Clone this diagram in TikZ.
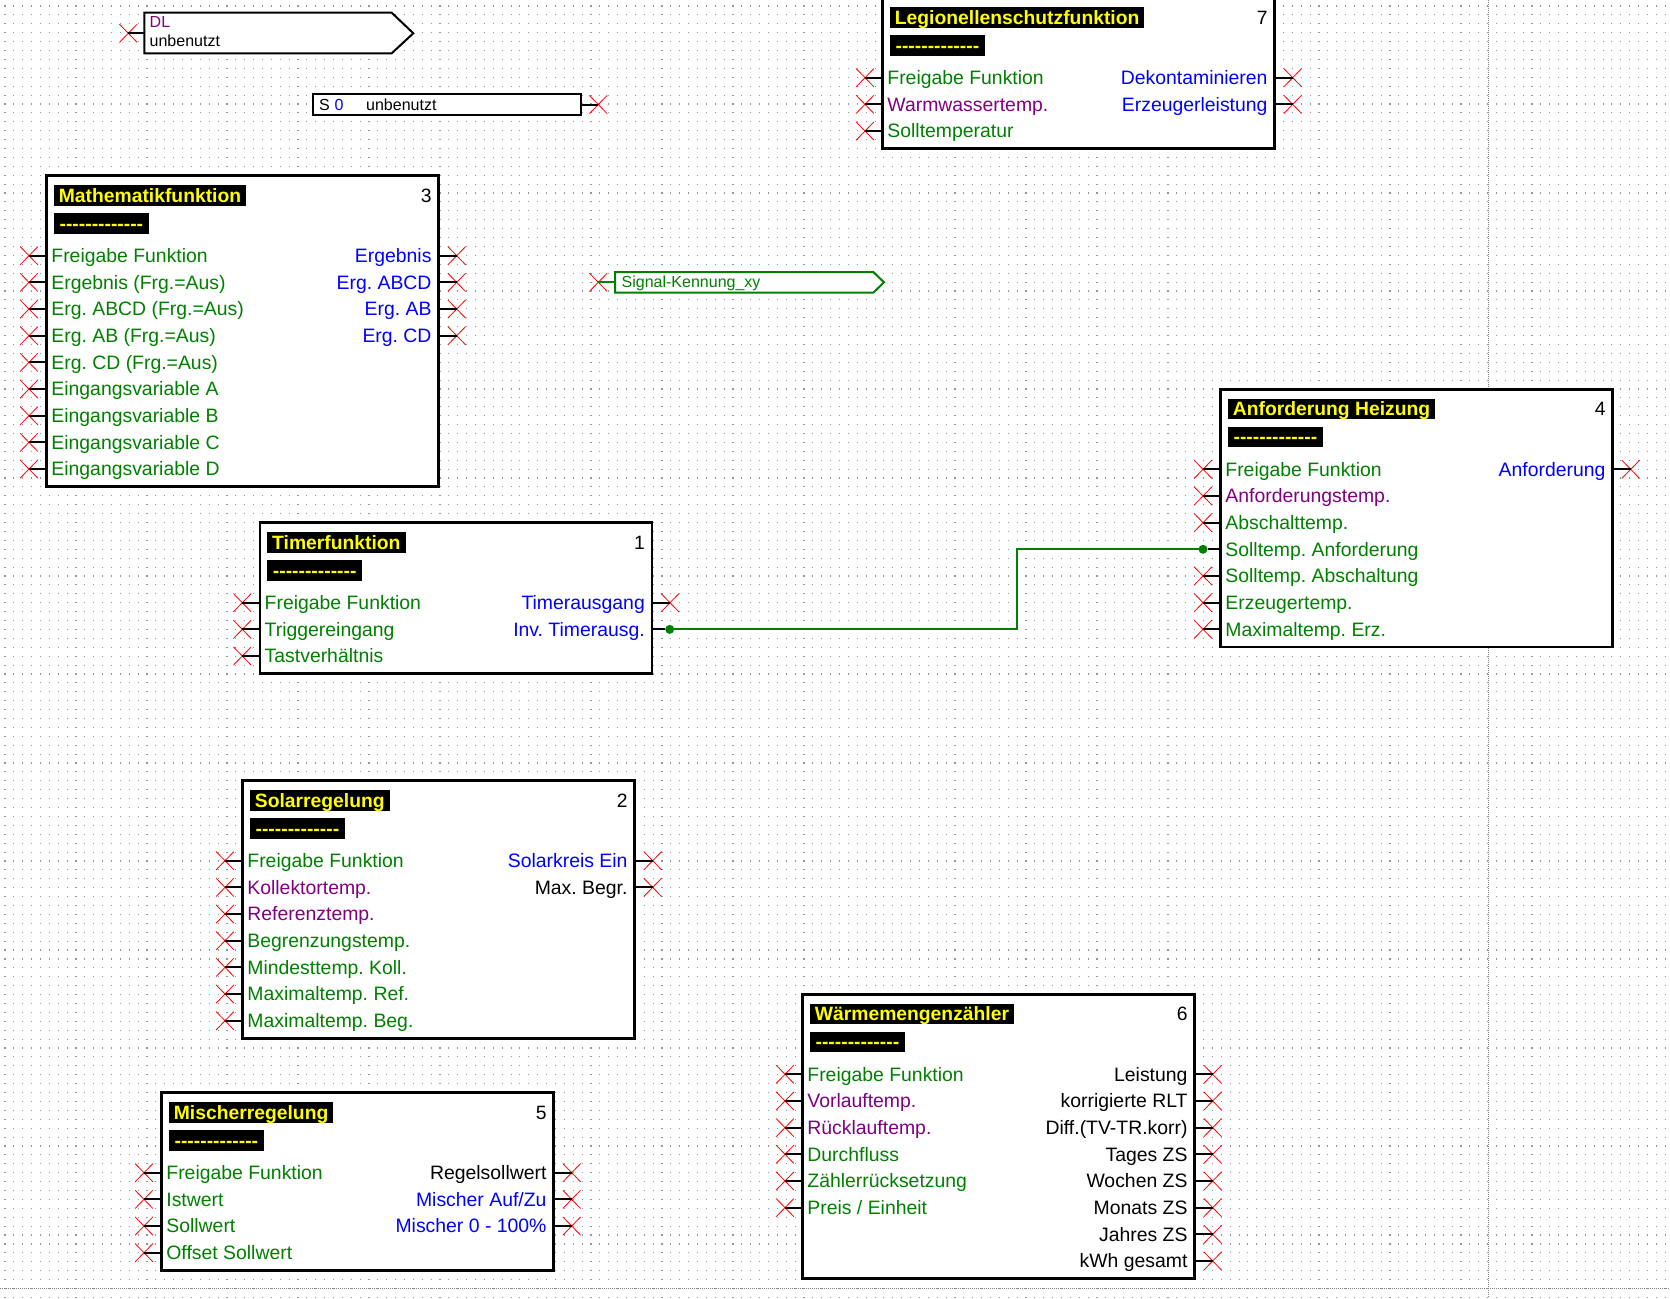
\documentclass[tikz,border=0pt]{standalone}
\usepackage{fontspec}
\setmainfont{Liberation Sans}
\usetikzlibrary{shapes.misc}
\definecolor{sgreen}{RGB}{0,128,0}
\definecolor{spurple}{RGB}{128,0,128}
\definecolor{sblue}{RGB}{0,0,255}
\definecolor{syellow}{RGB}{255,255,0}
\definecolor{griddot}{RGB}{150,150,150}
\newcommand{\dashrow}{-\kern0pt-\kern0pt-\kern0pt-\kern0pt-\kern0pt-\kern0pt-\kern0pt-\kern0pt-\kern0pt-\kern0pt-\kern0pt-\kern0pt-}
\frenchspacing

\begin{document}
\begin{tikzpicture}[
    x=1pt, y=-1pt,
    fblock/.style={rectangle, draw, line width=2.5pt, fill=white, anchor=north west, inner sep=0pt, outer sep=0pt, minimum width=392pt},
    ftitle/.style={fill=black, text=syellow, font=\fontsize{19.3}{22}\selectfont\bfseries, anchor=west, inner xsep=5pt, inner ysep=0pt, minimum height=20.7pt, text height=13.6pt, text depth=0pt},
    fdash/.style={ftitle, minimum width=95pt},
    fnum/.style={font=\fontsize{19.3}{22}\selectfont, anchor=base east, inner sep=0pt, yshift=-6.9pt},
    inlabel/.style={font=\fontsize{19.4}{22}\selectfont, anchor=base west, inner sep=0pt, yshift=-6.9pt},
    outlabel/.style={inlabel, anchor=base east},
    small/.style={font=\fontsize{16}{19}\selectfont, anchor=base west, inner sep=0pt},
    xmark/.style={cross out, draw=red, line width=0.8pt, minimum width=17pt, minimum height=17.5pt, inner sep=0pt},
    pindot/.style={circle, fill=sgreen, minimum size=9pt, inner sep=0pt},
    stub/.style={line width=2pt},
    link/.style={draw=sgreen, line width=2pt},
    pageline/.style={draw=gray, line width=1pt, dash pattern=on 1pt off 1pt}
]
\useasboundingbox (0,0) rectangle (1670,1298);
\fill[white] (0,0) rectangle (1670,1298);

% Grid
\foreach \r in {0,...,145}
    \draw[griddot, line width=1.1pt, dash pattern=on 1.1pt off 7.778pt] (4.45,6+8.906*\r) -- (1670,6+8.906*\r);
\draw[pageline] (1488.3,0) -- (1488.3,1298);
\draw[pageline] (0,1288.3) -- (1670,1288.3);

% DL input
\draw[line width=2pt, fill=white] (144.3,12.7) -- (391.7,12.7) -- (413.3,33.3) -- (391.7,53.3) -- (144.3,53.3) -- cycle;
\coordinate (dl-in) at (144.3,33.3);
\node[xmark] (dl-x) at (128.3,33.3) {};
\draw[stub] (dl-x.center) -- (dl-in);
\node[small, text=spurple] (dl-name) at (149.5,27.3) {DL};
\node[small] (dl-val) at (149.5,46.9) {unbenutzt};

% S 0
\node[rectangle, draw, fill=white, line width=2pt, anchor=north west, minimum width=267.7pt, minimum height=21pt, inner sep=0pt, outer sep=0pt] (s0) at (313.3,94) {};
\node[small] (s0-s) at (319,110) {S};
\node[small, text=sblue] (s0-n) at (334.5,110) {0};
\node[small] (s0-val) at (366,110) {unbenutzt};
\node[xmark] (s0-x) at (598.3,104.5) {};
\draw[stub] (s0-x.center) -- (s0-x -| s0.east);

% Signal
\draw[draw=sgreen, line width=2pt, fill=white] (615,272) -- (873.3,272) -- (884,282.3) -- (873.3,292.7) -- (615,292.7) -- cycle;
\coordinate (sig-in) at (615,282.3);
\node[xmark] (sig-x) at (598.3,282.3) {};
\draw[stub, sgreen] (sig-x.center) -- (sig-in);
\node[small, text=sgreen] (sig-name) at (621.5,287.3) {Signal-Kennung\_xy};

% Legionellenschutzfunktion
\node[fblock, minimum height=151pt] (legio) at (882.7,-2.3) {};
\node[ftitle] (legio-t) at ([shift={(7,19.7)}]legio.north west) {Legionellenschutzfunktion};
\node[fdash] (legio-d) at ([shift={(7,47.7)}]legio.north west) {\dashrow};
\node[fnum] (legio-n) at ([shift={(-7,19.7)}]legio.north east) {7};
\foreach \txt/\col [count=\i] in {Freigabe Funktion/sgreen, Warmwassertemp./spurple, Solltemperatur/sgreen} {
    \node[inlabel, text=\col] (legio-l\i) at ([shift={(4.5,53.33+26.667*\i)}]legio.north west) {\txt};
    \node[xmark] (legio-i\i) at ([shift={(-17.7,53.33+26.667*\i)}]legio.north west) {};
    \draw[stub] (legio-i\i.center) -- (legio-i\i -| legio.west);
}
\foreach \txt/\col [count=\i] in {Dekontaminieren/sblue, Erzeugerleistung/sblue} {
    \node[outlabel, text=\col] (legio-r\i) at ([shift={(-7,53.33+26.667*\i)}]legio.north east) {\txt};
    \node[xmark] (legio-o\i) at ([shift={(18,53.33+26.667*\i)}]legio.north east) {};
    \draw[stub] (legio-o\i.center) -- (legio-o\i -| legio.east);
}

% Mathematikfunktion
\node[fblock, minimum height=311pt] (math) at (46.7,175.7) {};
\node[ftitle] (math-t) at ([shift={(7,19.7)}]math.north west) {Mathematikfunktion};
\node[fdash] (math-d) at ([shift={(7,47.7)}]math.north west) {\dashrow};
\node[fnum] (math-n) at ([shift={(-7,19.7)}]math.north east) {3};
\foreach \txt/\col [count=\i] in {Freigabe Funktion/sgreen, Ergebnis (Frg.=Aus)/sgreen, Erg. ABCD (Frg.=Aus)/sgreen,
    Erg. AB (Frg.=Aus)/sgreen, Erg. CD (Frg.=Aus)/sgreen, Eingangsvariable A/sgreen,
    Eingangsvariable B/sgreen, Eingangsvariable C/sgreen, Eingangsvariable D/sgreen} {
    \node[inlabel, text=\col] (math-l\i) at ([shift={(4.5,53.33+26.667*\i)}]math.north west) {\txt};
    \node[xmark] (math-i\i) at ([shift={(-17.7,53.33+26.667*\i)}]math.north west) {};
    \draw[stub] (math-i\i.center) -- (math-i\i -| math.west);
}
\foreach \txt/\col [count=\i] in {Ergebnis/sblue, Erg. ABCD/sblue, Erg. AB/sblue, Erg. CD/sblue} {
    \node[outlabel, text=\col] (math-r\i) at ([shift={(-7,53.33+26.667*\i)}]math.north east) {\txt};
    \node[xmark] (math-o\i) at ([shift={(18,53.33+26.667*\i)}]math.north east) {};
    \draw[stub] (math-o\i.center) -- (math-o\i -| math.east);
}

% Anforderung Heizung
\node[fblock, minimum height=257.7pt] (anf) at (1220.7,389.3) {};
\node[ftitle] (anf-t) at ([shift={(7,19.7)}]anf.north west) {Anforderung Heizung};
\node[fdash] (anf-d) at ([shift={(7,47.7)}]anf.north west) {\dashrow};
\node[fnum] (anf-n) at ([shift={(-7,19.7)}]anf.north east) {4};
\foreach \txt/\col [count=\i] in {Freigabe Funktion/sgreen, Anforderungstemp./spurple, Abschalttemp./sgreen,
    Solltemp. Anforderung/sgreen, Solltemp. Abschaltung/sgreen, Erzeugertemp./sgreen, Maximaltemp. Erz./sgreen} {
    \node[inlabel, text=\col] (anf-l\i) at ([shift={(4.5,53.33+26.667*\i)}]anf.north west) {\txt};
}
\foreach \i in {1,2,3,5,6,7} {
    \node[xmark] (anf-i\i) at ([shift={(-17.7,53.33+26.667*\i)}]anf.north west) {};
    \draw[stub] (anf-i\i.center) -- (anf-i\i -| anf.west);
}
\node[pindot] (anf-i4) at ([shift={(-17.7,160)}]anf.north west) {};
\draw[stub] (anf-i4) -- (anf-i4 -| anf.west);
\node[outlabel, text=sblue] (anf-r1) at ([shift={(-7,80)}]anf.north east) {Anforderung};
\node[xmark] (anf-o1) at ([shift={(18,80)}]anf.north east) {};
\draw[stub] (anf-o1.center) -- (anf-o1 -| anf.east);

% Timerfunktion
\node[fblock, minimum height=151pt] (timer) at (260,522.7) {};
\node[ftitle] (timer-t) at ([shift={(7,19.7)}]timer.north west) {Timerfunktion};
\node[fdash] (timer-d) at ([shift={(7,47.7)}]timer.north west) {\dashrow};
\node[fnum] (timer-n) at ([shift={(-7,19.7)}]timer.north east) {1};
\foreach \txt/\col [count=\i] in {Freigabe Funktion/sgreen, Triggereingang/sgreen, Tastverhältnis/sgreen} {
    \node[inlabel, text=\col] (timer-l\i) at ([shift={(4.5,53.33+26.667*\i)}]timer.north west) {\txt};
    \node[xmark] (timer-i\i) at ([shift={(-17.7,53.33+26.667*\i)}]timer.north west) {};
    \draw[stub] (timer-i\i.center) -- (timer-i\i -| timer.west);
}
\node[outlabel, text=sblue] (timer-r1) at ([shift={(-7,80)}]timer.north east) {Timerausgang};
\node[outlabel, text=sblue] (timer-r2) at ([shift={(-7,106.67)}]timer.north east) {Inv. Timerausg.};
\node[xmark] (timer-o1) at ([shift={(18,80)}]timer.north east) {};
\draw[stub] (timer-o1.center) -- (timer-o1 -| timer.east);
\node[pindot] (timer-o2) at ([shift={(17.7,106.67)}]timer.north east) {};
\draw[stub] (timer-o2) -- (timer-o2 -| timer.east);

% Solarregelung
\node[fblock, minimum height=257.7pt] (solar) at (242.7,780.7) {};
\node[ftitle] (solar-t) at ([shift={(7,19.7)}]solar.north west) {Solarregelung};
\node[fdash] (solar-d) at ([shift={(7,47.7)}]solar.north west) {\dashrow};
\node[fnum] (solar-n) at ([shift={(-7,19.7)}]solar.north east) {2};
\foreach \txt/\col [count=\i] in {Freigabe Funktion/sgreen, Kollektortemp./spurple, Referenztemp./spurple,
    Begrenzungstemp./sgreen, Mindesttemp. Koll./sgreen, Maximaltemp. Ref./sgreen, Maximaltemp. Beg./sgreen} {
    \node[inlabel, text=\col] (solar-l\i) at ([shift={(4.5,53.33+26.667*\i)}]solar.north west) {\txt};
    \node[xmark] (solar-i\i) at ([shift={(-17.7,53.33+26.667*\i)}]solar.north west) {};
    \draw[stub] (solar-i\i.center) -- (solar-i\i -| solar.west);
}
\foreach \txt/\col [count=\i] in {Solarkreis Ein/sblue, Max. Begr./black} {
    \node[outlabel, text=\col] (solar-r\i) at ([shift={(-7,53.33+26.667*\i)}]solar.north east) {\txt};
    \node[xmark] (solar-o\i) at ([shift={(18,53.33+26.667*\i)}]solar.north east) {};
    \draw[stub] (solar-o\i.center) -- (solar-o\i -| solar.east);
}

% Waermemengenzaehler
\node[fblock, minimum height=284.4pt] (wmz) at (802.7,994.3) {};
\node[ftitle] (wmz-t) at ([shift={(7,19.7)}]wmz.north west) {Wärmemengenzähler};
\node[fdash] (wmz-d) at ([shift={(7,47.7)}]wmz.north west) {\dashrow};
\node[fnum] (wmz-n) at ([shift={(-7,19.7)}]wmz.north east) {6};
\foreach \txt/\col [count=\i] in {Freigabe Funktion/sgreen, Vorlauftemp./spurple, Rücklauftemp./spurple,
    Durchfluss/sgreen, Zählerrücksetzung/sgreen, {Preis / Einheit}/sgreen} {
    \node[inlabel, text=\col] (wmz-l\i) at ([shift={(4.5,53.33+26.667*\i)}]wmz.north west) {\txt};
    \node[xmark] (wmz-i\i) at ([shift={(-17.7,53.33+26.667*\i)}]wmz.north west) {};
    \draw[stub] (wmz-i\i.center) -- (wmz-i\i -| wmz.west);
}
\foreach \txt [count=\i] in {Leistung, korrigierte RLT, Diff.(TV-TR.korr), Tages ZS, Wochen ZS, Monats ZS, Jahres ZS, kWh gesamt} {
    \node[outlabel] (wmz-r\i) at ([shift={(-7,53.33+26.667*\i)}]wmz.north east) {\txt};
    \node[xmark] (wmz-o\i) at ([shift={(18,53.33+26.667*\i)}]wmz.north east) {};
    \draw[stub] (wmz-o\i.center) -- (wmz-o\i -| wmz.east);
}

% Mischerregelung
\node[fblock, minimum height=177.7pt] (misch) at (161.7,1092.7) {};
\node[ftitle] (misch-t) at ([shift={(7,19.7)}]misch.north west) {Mischerregelung};
\node[fdash] (misch-d) at ([shift={(7,47.7)}]misch.north west) {\dashrow};
\node[fnum] (misch-n) at ([shift={(-7,19.7)}]misch.north east) {5};
\foreach \txt/\col [count=\i] in {Freigabe Funktion/sgreen, Istwert/sgreen, Sollwert/sgreen, Offset Sollwert/sgreen} {
    \node[inlabel, text=\col] (misch-l\i) at ([shift={(4.5,53.33+26.667*\i)}]misch.north west) {\txt};
    \node[xmark] (misch-i\i) at ([shift={(-17.7,53.33+26.667*\i)}]misch.north west) {};
    \draw[stub] (misch-i\i.center) -- (misch-i\i -| misch.west);
}
\foreach \txt/\col [count=\i] in {Regelsollwert/black, {Mischer Auf/Zu}/sblue, Mischer 0 - 100\%/sblue} {
    \node[outlabel, text=\col] (misch-r\i) at ([shift={(-7,53.33+26.667*\i)}]misch.north east) {\txt};
    \node[xmark] (misch-o\i) at ([shift={(18,53.33+26.667*\i)}]misch.north east) {};
    \draw[stub] (misch-o\i.center) -- (misch-o\i -| misch.east);
}

% Connection
\coordinate (bend) at (1016.7,590);
\draw[link] (timer-o2.center) -| (bend) |- (anf-i4.center);

\end{tikzpicture}
\end{document}
